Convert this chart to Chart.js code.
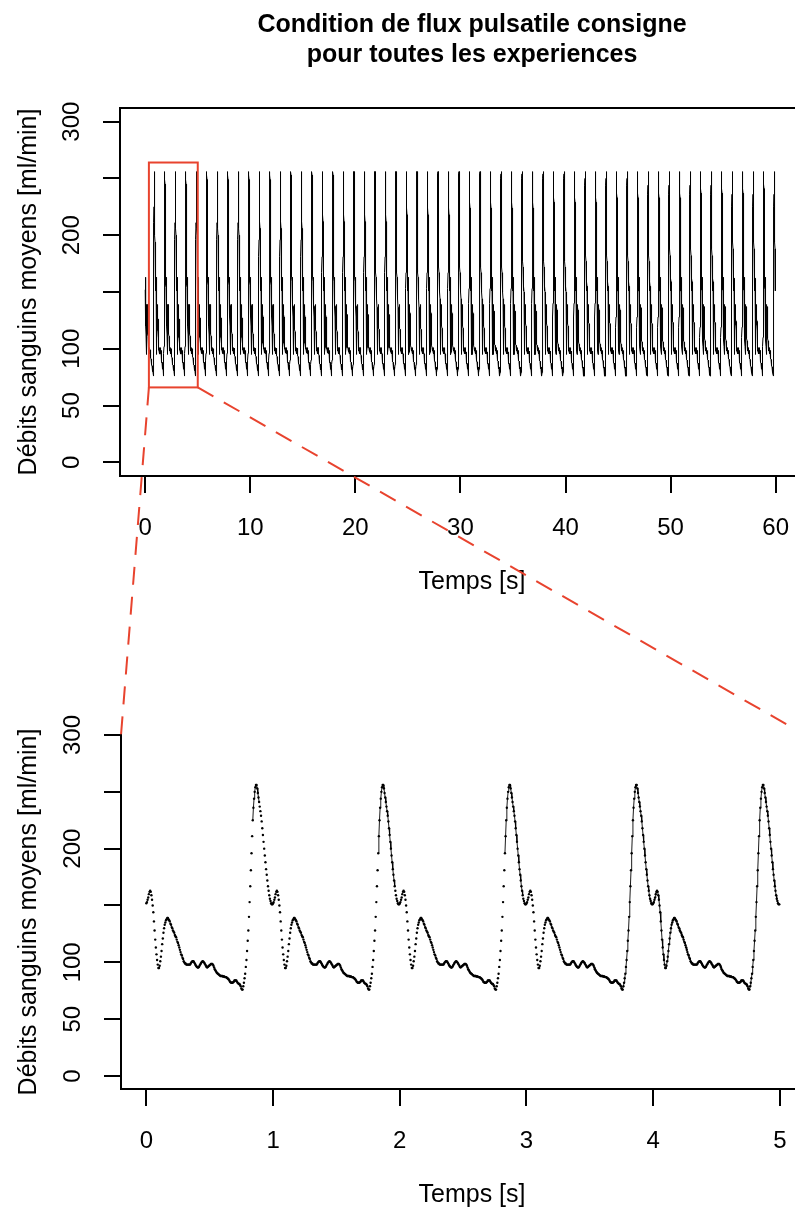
<!DOCTYPE html>
<html>
<head>
<meta charset="utf-8">
<title>Condition de flux pulsatile consigne</title>
<script src="https://cdn.jsdelivr.net/npm/chart.js@4.4.1/dist/chart.umd.min.js"></script>
<style>
  html, body { margin: 0; padding: 0; background: #fff; overflow: hidden; width: 795px; height: 1212px; }
  #wrap { position: relative; width: 795px; height: 1212px; overflow: hidden; }
  #wrap canvas { position: absolute; left: 0; }
  #overview { top: 0; }
  #detail { top: 640px; }
  #guides { top: 0; pointer-events: none; }
</style>
</head>
<body>
<div id="wrap">
  <canvas id="overview" width="942" height="640"></canvas>
  <canvas id="detail" width="942" height="572"></canvas>
  <canvas id="guides" width="795" height="1212"></canvas>
</div>
<script>
// ---- texts ----
const titleLines = ['Condition de flux pulsatile consigne', 'pour toutes les experiences'];
const xAxisTitle = 'Temps [s]';
const yAxisTitle = 'Débits sanguins moyens [ml/min]';

// ---- one period of the set-point flow (ml/min), sampled every 5 ms ----
const samplePeriod = 0.005;
const cycleFlow = [
  152, 153, 155, 157, 160, 162, 163, 162, 159, 155,
  150, 144, 136, 128, 120, 113, 107, 102, 98, 95,
  95, 97, 101, 105, 110, 116, 121, 126, 130, 133,
  135, 137, 138, 139, 139, 138, 137, 136, 134, 133,
  131, 130, 128, 127, 126, 124, 123, 122, 120, 118,
  117, 115, 113, 111, 109, 107, 106, 104, 103, 101,
  100, 99, 99, 98, 98, 98, 98, 98, 98, 98,
  99, 100, 100.5, 101, 101, 100.5, 99.5, 98.5, 97.5, 96.5,
  96, 95.5, 95.5, 96, 97, 98, 99, 100, 100.5, 101,
  100.5, 100, 99, 98, 97, 96, 95.5, 96, 96.5, 97,
  97.5, 98, 98.5, 98.5, 98.5, 98, 97, 95.5, 94, 93,
  92, 91, 90.5, 90, 89.5, 89, 88.5, 88, 88, 88,
  88, 87.5, 87.5, 87.5, 87, 87, 87, 86.5, 86, 85.5,
  85, 84, 83, 82.5, 82, 82, 82, 82.5, 83, 84,
  84, 84, 84, 83, 82, 81.5, 81, 81, 80, 79,
  77, 76, 76, 79, 82, 86, 90, 96, 102, 110,
  119, 128, 140, 153, 167, 181, 196, 211, 225, 236,
  244, 250, 254, 256, 256, 253, 249, 245, 241, 237,
  233, 229, 224, 218, 212, 206, 200, 194, 188, 182,
  177, 172, 167, 163, 159, 156, 154, 152, 151, 151
];
const overviewCycles = 60;   // 60 s experiment
const detailCycles = 5;      // first 5 s, enlarged

// ---- axes ----
const overviewXTicks = [0, 10, 20, 30, 40, 50, 60];
const detailXTicks = [0, 1, 2, 3, 4, 5];
const yTickMarks = [0, 50, 100, 150, 200, 250, 300];
const yTickLabels = [0, 50, 100, 200, 300];

// ---- time windows where the enlarged samples are also joined by a line ----
const detailLineWindows = [[0.84, 0.89], [1.83, 1.96], [2.83, 2.97], [3.45, 5.0]];

// ---- zoom frame on the overview, and the detail corners it points to ----
const zoomFrame = { t0: 0.35, t1: 5, q0: 66, q1: 264 };
const detailCorners = { tLeft: -0.2, tRight: 5.2, q: 300 };

const FONT = '"Liberation Sans", Arial, Helvetica, sans-serif';
const GUIDE_RED = '#e8432e';

function tileCycles(n) {
  const pts = [];
  for (let c = 0; c < n; c++) {
    cycleFlow.forEach((q, i) => {
      pts.push({ x: +((c * cycleFlow.length + i) * samplePeriod).toFixed(3), y: q });
    });
  }
  return pts;
}

const overviewSeries = tileCycles(overviewCycles);
const detailSeries = tileCycles(detailCycles);
const detailJoined = detailSeries.map(p => {
  const inside = detailLineWindows.some(w => p.x >= w[0] && p.x <= w[1]);
  return { x: p.x, y: inside ? p.y : null };
});

Chart.defaults.animation = false;
Chart.defaults.font.family = FONT;
Chart.defaults.color = '#000';

// vertical (rotated) tick labels on the left axis
const rotatedYLabels = {
  id: 'rotatedYLabels',
  afterDraw(chart) {
    const s = chart.scales.y, ctx = chart.ctx;
    ctx.save();
    ctx.font = '24px ' + FONT;
    ctx.fillStyle = '#000';
    ctx.textAlign = 'center';
    ctx.textBaseline = 'middle';
    yTickLabels.forEach(v => {
      ctx.save();
      ctx.translate(s.right - 48, s.getPixelForValue(v));
      ctx.rotate(-Math.PI / 2);
      ctx.fillText(String(v), 0, 0);
      ctx.restore();
    });
    ctx.restore();
  }
};

// full frame around the overview plotting region
const frameBox = {
  id: 'frameBox',
  afterDraw(chart) {
    const a = chart.chartArea, ctx = chart.ctx;
    ctx.save();
    ctx.strokeStyle = '#000';
    ctx.lineWidth = 2;
    ctx.strokeRect(a.left, a.top, a.right - a.left, a.bottom - a.top);
    ctx.restore();
  }
};

function axisX(min, max, ticks, height, titlePad) {
  return {
    type: 'linear', min, max,
    afterBuildTicks: s => { s.ticks = ticks.map(v => ({ value: v })); },
    afterFit: s => { s.height = height; },
    grid: { display: true, drawOnChartArea: false, drawTicks: true, tickLength: 17, tickWidth: 2, tickColor: '#000', color: '#000', lineWidth: 2 },
    border: { display: true, color: '#000', width: 2 },
    ticks: { color: '#000', font: { size: 24 }, padding: 21, maxRotation: 0, autoSkip: false },
    title: { display: true, text: xAxisTitle, color: '#000', font: { size: 25 }, padding: { top: titlePad, bottom: titlePad } }
  };
}

function axisY(min, max, width) {
  return {
    type: 'linear', min, max,
    afterBuildTicks: s => { s.ticks = yTickMarks.map(v => ({ value: v })); },
    afterFit: s => { s.width = width; },
    grid: { display: true, drawOnChartArea: false, drawTicks: true, tickLength: 17, tickWidth: 2, tickColor: '#000', color: '#000', lineWidth: 2 },
    border: { display: true, color: '#000', width: 2 },
    ticks: { display: false },
    title: { display: true, text: yAxisTitle, color: '#000', font: { size: 25 }, padding: { top: 14, bottom: 14 } }
  };
}

const overview = new Chart(document.getElementById('overview'), {
  type: 'line',
  data: {
    datasets: [{
      data: overviewSeries,
      borderColor: '#000', borderWidth: 1, pointRadius: 0, tension: 0,
      parsing: false, normalized: true
    }]
  },
  options: {
    responsive: false, devicePixelRatio: 1, events: [],
    layout: { padding: { left: 0, top: 0, right: 118, bottom: 0 } },
    plugins: {
      legend: { display: false }, tooltip: { enabled: false },
      title: {
        display: true, fullSize: false, text: titleLines, color: '#000',
        font: { size: 25, weight: 'bold', lineHeight: 1.2 },
        padding: { top: 10, bottom: 38 }
      }
    },
    scales: { x: axisX(-2.4, 64.6, overviewXTicks, 164, 43), y: axisY(-12, 312, 120) }
  },
  plugins: [rotatedYLabels, frameBox]
});

const detail = new Chart(document.getElementById('detail'), {
  type: 'line',
  data: {
    datasets: [
      {
        data: detailSeries, showLine: false,
        pointRadius: 1.2, pointBorderWidth: 0, pointBackgroundColor: '#000',
        parsing: false, normalized: true
      },
      {
        data: detailJoined, borderColor: '#000', borderWidth: 0.9,
        pointRadius: 0, tension: 0, spanGaps: false,
        parsing: false, normalized: true
      }
    ]
  },
  options: {
    responsive: false, devicePixelRatio: 1, events: [],
    layout: { padding: { left: 0, top: 95, right: 119, bottom: 0 } },
    plugins: { legend: { display: false }, tooltip: { enabled: false } },
    scales: { x: axisX(-0.2, 5.34, detailXTicks, 123, 2), y: axisY(-11.44, 300, 121) }
  },
  plugins: [rotatedYLabels]
});

// red zoom frame and dashed guides joining both plots
(function drawGuides() {
  const ctx = document.getElementById('guides').getContext('2d');
  const detailTop = document.getElementById('detail').offsetTop;
  const ox = overview.scales.x, oy = overview.scales.y;
  const dx = detail.scales.x, dy = detail.scales.y;
  const x0 = ox.getPixelForValue(zoomFrame.t0), x1 = ox.getPixelForValue(zoomFrame.t1);
  const yLow = oy.getPixelForValue(zoomFrame.q0), yHigh = oy.getPixelForValue(zoomFrame.q1);
  ctx.strokeStyle = GUIDE_RED;
  ctx.lineWidth = 2;
  ctx.strokeRect(x0, yHigh, x1 - x0, yLow - yHigh);
  ctx.setLineDash([18, 12]);
  const yCorner = detailTop + dy.getPixelForValue(detailCorners.q);
  ctx.beginPath();
  ctx.moveTo(x0, yLow);
  ctx.lineTo(dx.getPixelForValue(detailCorners.tLeft), yCorner);
  ctx.moveTo(x1, yLow);
  ctx.lineTo(dx.getPixelForValue(detailCorners.tRight), yCorner);
  ctx.stroke();
})();
</script>
</body>
</html>
